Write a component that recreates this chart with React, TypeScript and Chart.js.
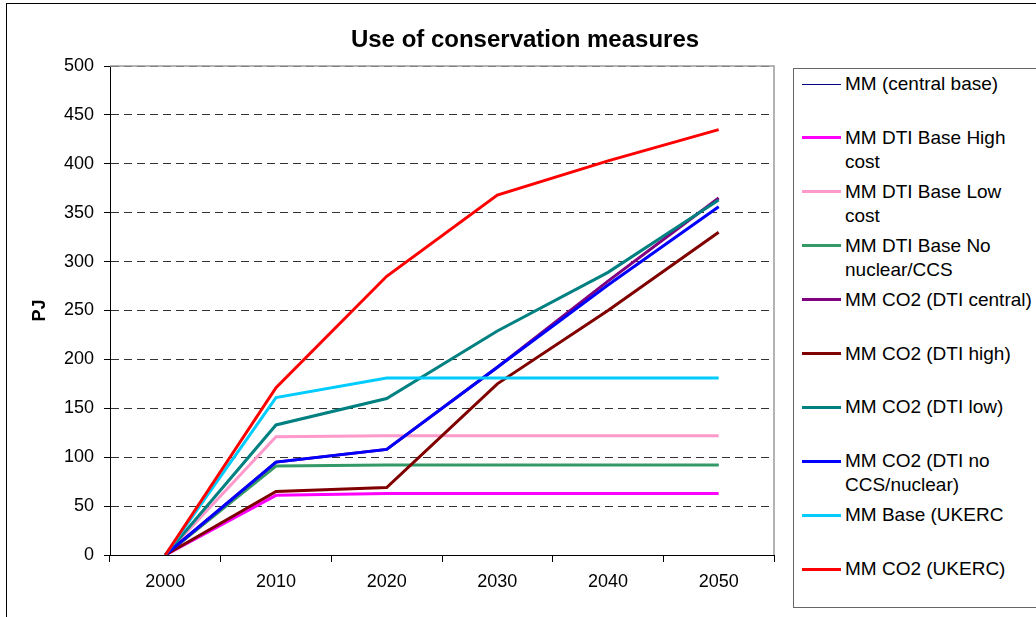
import React, { useEffect, useRef } from "react";
import { Chart, registerables } from "chart.js";

Chart.register(...registerables);

const years = ["2000", "2010", "2020", "2030", "2040", "2050"];

const seriesNames = [
  "MM (central base)",
  "MM DTI Base High cost",
  "MM DTI Base Low cost",
  "MM DTI Base No nuclear/CCS",
  "MM CO2 (DTI central)",
  "MM CO2 (DTI high)",
  "MM CO2 (DTI low)",
  "MM CO2 (DTI no CCS/nuclear)",
  "MM Base (UKERC",
  "MM CO2 (UKERC)",
];

const centralBase = [0, 91, 92, 92, 92, 92];
const dtiHighCost = [0, 61, 63, 63, 63, 63];
const dtiLowCost = [0, 121, 122, 122, 122, 122];
const dtiNoNuclear = [0, 91, 92, 92, 92, 92];
const co2DtiCentral = [0, 95, 108, 192, 280, 365];
const co2DtiHigh = [0, 65, 69, 175, 250, 330];
const co2DtiLow = [0, 133, 160, 229, 289, 363];
const co2DtiNoCcs = [0, 95, 108, 192, 276, 356];
const ukercBase = [0, 161, 181, 181, 181, 181];
const ukercCo2 = [0, 171, 285, 368, 403, 435];

const seriesValues = [
  centralBase,
  dtiHighCost,
  dtiLowCost,
  dtiNoNuclear,
  co2DtiCentral,
  co2DtiHigh,
  co2DtiLow,
  co2DtiNoCcs,
  ukercBase,
  ukercCo2,
];

const seriesColors = [
  "#000080",
  "#FF00FF",
  "#FF99CC",
  "#339966",
  "#800080",
  "#800000",
  "#008080",
  "#0000FF",
  "#00CCFF",
  "#FF0000",
];

const seriesWidths = [1, 3, 3, 3, 3, 3, 3, 3, 3, 3];

const yTicks = { min: 0, max: 500, step: 50 };
const chartTitle = "Use of conservation measures";
const yTitle = "PJ";

const FONT = "'Liberation Sans', Arial, sans-serif";

export default function App() {
  const canvasRef = useRef<HTMLCanvasElement | null>(null);

  useEffect(() => {
    const canvas = canvasRef.current;
    if (!canvas) return;

    const titlePlugin = {
      id: "customTitle",
      afterDraw(chart: any) {
        const ctx = chart.ctx;
        ctx.save();
        ctx.font = `bold 24px ${FONT}`;
        ctx.fillStyle = "#000";
        ctx.textAlign = "center";
        ctx.textBaseline = "alphabetic";
        ctx.fillText(chartTitle, 525, 47);
        ctx.restore();
      },
    };

    const framePlugin = {
      id: "plotFrame",
      beforeDatasetsDraw(chart: any) {
        const { ctx, chartArea } = chart;
        ctx.save();
        ctx.strokeStyle = "#9a9a9a";
        ctx.lineWidth = 1.5;
        ctx.beginPath();
        ctx.moveTo(chartArea.left, chartArea.top);
        ctx.lineTo(chartArea.right, chartArea.top);
        ctx.lineTo(chartArea.right, chartArea.bottom);
        ctx.stroke();
        ctx.restore();
      },
    };

    const n = seriesNames.length;
    const chart = new Chart(canvas, {
      type: "line",
      data: {
        labels: years,
        datasets: seriesNames.map((name, i) => ({
          label: name,
          data: seriesValues[i],
          borderColor: seriesColors[i],
          backgroundColor: seriesColors[i],
          borderWidth: seriesWidths[i],
          pointRadius: 0,
          tension: 0,
          fill: false,
          order: n - i,
        })),
      },
      options: {
        responsive: false,
        animation: false,
        layout: { padding: { top: 66, right: 262, left: 0, bottom: 0 } },
        plugins: {
          legend: { display: false },
          title: { display: false },
          tooltip: { enabled: false },
        },
        scales: {
          x: {
            type: "category",
            offset: true,
            grid: {
              display: true,
              drawOnChartArea: false,
              drawTicks: true,
              offset: true,
              tickLength: 7,
              tickColor: "#000",
              color: "#000",
            },
            border: { display: true, color: "#000", width: 1 },
            ticks: {
              color: "#000",
              font: { family: FONT, size: 18 },
              padding: 9,
              maxRotation: 0,
              autoSkip: false,
            },
            afterFit(scale: any) {
              scale.height = 62;
            },
          },
          y: {
            min: yTicks.min,
            max: yTicks.max,
            grid: {
              display: true,
              drawOnChartArea: true,
              drawTicks: true,
              tickLength: 6,
              tickColor: "#000",
              color: "#333",
              lineWidth: 1,
            },
            border: { display: true, color: "#000", width: 1, dash: [8, 5] },
            ticks: {
              stepSize: yTicks.step,
              color: "#000",
              font: { family: FONT, size: 18 },
              padding: 10,
            },
            title: {
              display: true,
              text: yTitle,
              color: "#000",
              font: { family: FONT, size: 18, weight: "bold" },
              padding: { top: 29, bottom: 0 },
            },
            afterFit(scale: any) {
              scale.width = 110;
            },
          },
        },
      },
      plugins: [titlePlugin, framePlugin],
    } as any);

    return () => {
      chart.destroy();
    };
  }, []);

  return (
    <div
      style={{
        position: "fixed",
        left: 0,
        top: 0,
        width: 1036,
        height: 617,
        background: "#fff",
        overflow: "hidden",
        fontFamily: FONT,
      }}
    >
      <div
        style={{
          position: "absolute",
          left: 6,
          top: 3,
          width: 1100,
          height: 700,
          borderLeft: "1.5px solid #000",
          borderTop: "1.5px solid #000",
        }}
      />
      <canvas
        ref={canvasRef}
        width={1036}
        height={617}
        style={{ position: "absolute", left: 0, top: 0, width: 1036, height: 617 }}
      />
      <div
        style={{
          position: "absolute",
          left: 793,
          top: 68,
          width: 300,
          height: 540,
          border: "1px solid #666",
          boxSizing: "border-box",
          background: "#fff",
        }}
      >
        {seriesNames.map((name, i) => (
          <div
            key={name}
            style={{
              position: "absolute",
              left: 0,
              top: 3 + i * 53.9,
              width: 300,
            }}
          >
            <div
              style={{
                position: "absolute",
                left: 8,
                top: 12 - seriesWidths[i] / 2,
                width: 39,
                height: seriesWidths[i],
                background: seriesColors[i],
              }}
            />
            <div
              style={{
                position: "absolute",
                left: 51,
                top: 0,
                width: 194,
                fontSize: 19,
                lineHeight: "24px",
                color: "#000",
              }}
            >
              {name}
            </div>
          </div>
        ))}
      </div>
    </div>
  );
}
